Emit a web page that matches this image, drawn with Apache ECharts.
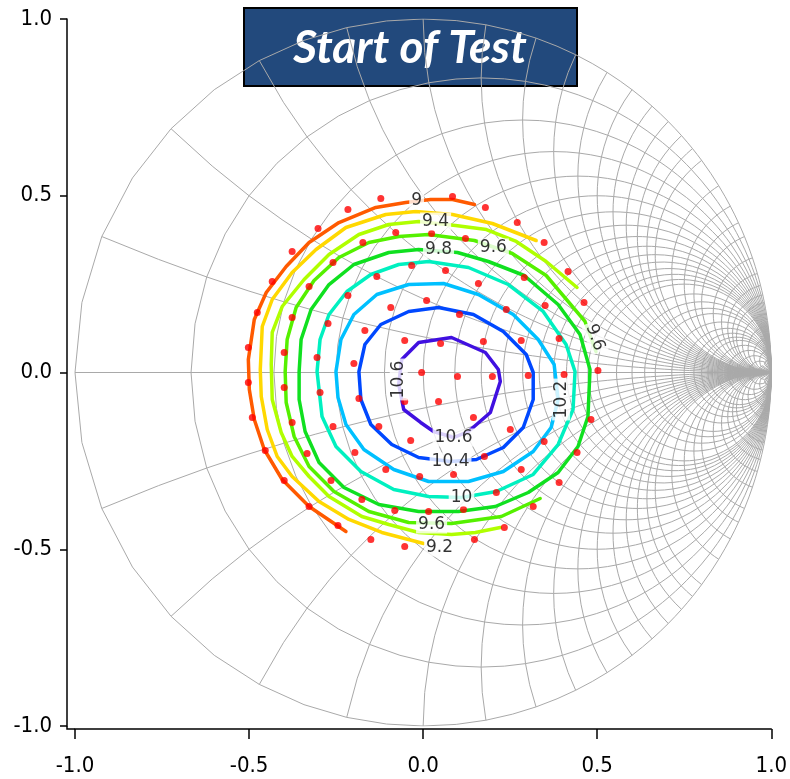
<!DOCTYPE html>
<html>
<head>
<meta charset="utf-8">
<script src="https://cdn.jsdelivr.net/npm/echarts@6/dist/echarts.min.js"></script>
<style>
  html, body { margin: 0; padding: 0; background: #fff; }
  #chart { width: 790px; height: 779px; }
</style>
</head>
<body>
<div id="chart"></div>
<script>
// Smith chart grid: normalised resistance circles and reactance arcs
const resistanceCircles = [0, 0.2, 0.4, 0.6, 0.8, 1, 1.2, 1.4, 1.6, 1.8, 2, 2.2, 2.4, 2.6, 2.8, 3, 3.5, 4, 4.5, 5, 6, 7, 8, 9, 10, 12, 15, 20, 30, 50];
const reactanceArcs = [0.2, 0.4, 0.6, 0.8, 1, 1.2, 1.4, 1.6, 1.8, 2, 2.2, 2.4, 2.6, 2.8, 3, 3.5, 4, 4.5, 5, 6, 7, 8, 9, 10, 12, 15, 20, 30, 50];

// Axis ticks
const axisMin = -1, axisMax = 1, axisStep = 0.5;

// Contour levels and their traces in the reflection-coefficient plane [Re, Im]
const contourLevels = ['9', '9.2', '9.4', '9.6', '9.8', '10', '10.2', '10.4', '10.6'];
const contourColors = ['#ff5a00', '#ffd800', '#b0ff00', '#55f000', '#10e020', '#00f0c0', '#00c0ff', '#0048ff', '#4010e0'];

const contour9 = [[-0.2217,-0.4498],[-0.3276,-0.3791],[-0.4049,-0.3027],[-0.4564,-0.2178],[-0.485,-0.133],[-0.4993,-0.048],[-0.5021,0.0368],[-0.485,0.15],[-0.4506,0.2263],[-0.3934,0.2999],[-0.3276,0.3678],[-0.2418,0.4243],[-0.1359,0.4668],[-0.0501,0.4809],[0.0215,0.4894],[0.0844,0.4894],[0.1474,0.4752]];
const contour9_2 = [[0.0014,-0.4837],[-0.1187,-0.4526],[-0.2132,-0.4158],[-0.299,-0.3649],[-0.3763,-0.2942],[-0.4192,-0.2376],[-0.4478,-0.1612],[-0.465,-0.0679],[-0.4678,0.0085],[-0.4621,0.1301],[-0.4335,0.2065],[-0.3763,0.2829],[-0.3076,0.3479],[-0.2217,0.4102],[-0.1073,0.447],[-0.0215,0.4554],[0.0844,0.447],[0.1989,0.4215],[0.3247,0.3734]];
const contour9_4 = [[0.2217,-0.4385],[0.1502,-0.4526],[0.0815,-0.4583],[-0.0129,-0.4526],[-0.0987,-0.43],[-0.176,-0.4074],[-0.2704,-0.3508],[-0.3276,-0.2942],[-0.3763,-0.2376],[-0.4077,-0.1697],[-0.4335,-0.0764],[-0.4363,0.0226],[-0.4335,0.1132],[-0.4049,0.1867],[-0.3419,0.2631],[-0.2704,0.3338],[-0.1845,0.3904],[-0.0987,0.4187],[-0.0129,0.4272],[0.093,0.4158],[0.1817,0.4045],[0.2675,0.3706],[0.3534,0.314],[0.4421,0.2405]];
const contour9_6 = [[0.3362,-0.3564],[0.2246,-0.4074],[0.0815,-0.4272],[-0.0415,-0.4243],[-0.1559,-0.3932],[-0.2561,-0.3366],[-0.3276,-0.2659],[-0.3705,-0.181],[-0.3934,-0.0849],[-0.3963,0.0028],[-0.3906,0.0934],[-0.3648,0.1839],[-0.3133,0.2603],[-0.2418,0.3253],[-0.1559,0.3678],[-0.0701,0.3847],[0.0157,0.3904],[0.1474,0.3734],[0.2561,0.3366],[0.3534,0.2744],[0.4649,0.1443],[0.4964,0.0594]];
const contour9_8 = [[-0.3562,0.0028],[-0.3505,0.0934],[-0.3219,0.1782],[-0.2704,0.2489],[-0.1989,0.3055],[-0.0987,0.3395],[-0.0129,0.3479],[0.0987,0.3395],[0.1874,0.314],[0.2904,0.2744],[0.3877,0.1924],[0.4506,0.1075],[0.4793,0.0085],[0.4735,-0.1245],[0.4449,-0.2093],[0.3877,-0.2829],[0.3019,-0.3395],[0.2074,-0.3791],[0.1016,-0.3932],[-0.0129,-0.3932],[-0.1273,-0.3734],[-0.2275,-0.3253],[-0.299,-0.2546],[-0.339,-0.1669],[-0.3562,-0.0764],[-0.3562,0.0028]];
const contour10 = [[-0.3047,0.0028],[-0.2961,0.0934],[-0.2704,0.1641],[-0.2189,0.2291],[-0.1502,0.2772],[-0.0701,0.3055],[0.0157,0.314],[0.1302,0.297],[0.2446,0.2489],[0.3448,0.1726],[0.4106,0.0792],[0.4363,0.0028],[0.4306,-0.1047],[0.3877,-0.2037],[0.3162,-0.2885],[0.2103,-0.3366],[0.1102,-0.3536],[0.0157,-0.3508],[-0.0844,-0.331],[-0.1788,-0.2801],[-0.2504,-0.2093],[-0.2904,-0.1245],[-0.3047,0.0028]];
const contour10_2 = [[-0.2504,0.0028],[-0.2361,0.0934],[-0.1989,0.1641],[-0.133,0.2207],[-0.0415,0.2489],[0.0587,0.2518],[0.1588,0.2207],[0.2589,0.1641],[0.3305,0.0934],[0.3763,0.0226],[0.3877,-0.0764],[0.3677,-0.1556],[0.3162,-0.2235],[0.2303,-0.2801],[0.1302,-0.3083],[0.0157,-0.3083],[-0.0844,-0.2744],[-0.1702,-0.2178],[-0.2217,-0.1471],[-0.2446,-0.0707],[-0.2504,0.0028]];
const contour10_4 = [[-0.1845,0.0028],[-0.1674,0.0792],[-0.1216,0.1358],[-0.0415,0.1726],[0.0443,0.1839],[0.1445,0.1641],[0.2303,0.116],[0.2961,0.0509],[0.3162,0],[0.3162,-0.0764],[0.2876,-0.1556],[0.2303,-0.2122],[0.1531,-0.2461],[0.0787,-0.2518],[-0.0129,-0.2405],[-0.0901,-0.2037],[-0.1502,-0.1471],[-0.1788,-0.0764],[-0.1845,0.0028]];
const contour10_6 = [[-0.0615,0.0368],[-0.0129,0.0849],[0.0815,0.099],[0.1788,0.0566],[0.216,0.0085],[0.2217,-0.0255],[0.1931,-0.1132],[0.1302,-0.1669],[0.0873,-0.1839],[0.03,-0.1669],[-0.0072,-0.1414],[-0.0558,-0.1047],[-0.0701,-0.0339],[-0.0615,0.0368]];
const contourTraces = [contour9, contour9_2, contour9_4, contour9_6, contour9_8, contour10, contour10_2, contour10_4, contour10_6];

// Contour labels: level text and its anchor on the trace
const labelTexts = ['9', '9.2', '9.4', '9.6', '9.6', '9.8', '9.6', '10', '10.2', '10.4', '10.6', '10.6'];
const labelAnchors = [[-0.0186,0.4866],[0.0472,-0.495],[0.0358,0.4272],[0.2017,0.3536],[0.4936,0.099],[0.0443,0.3479],[0.0243,-0.43],[0.1102,-0.3536],[0.3963,-0.0764],[0.0787,-0.2518],[-0.0701,-0.0198],[0.0873,-0.1839]];
const labelAngles = [0, 0, 0, 0, -70, 0, 0, 0, 90, 0, 90, 0];

// Measured load points [Re, Im]
const measuredPoints = [
  [-0.1216,0.4922],[-0.216,0.4611],[-0.3019,0.4074],[-0.3763,0.3423],[-0.4335,0.2574],[-0.4764,0.1697],[-0.5021,0.0707],
  [-0.0787,0.396],[-0.1731,0.3678],[-0.2589,0.3112],[-0.3276,0.2433],[-0.3763,0.1556],[-0.3991,0.0566],
  [-0.0329,0.3027],[-0.133,0.2716],[-0.216,0.2178],[-0.2732,0.1386],[-0.3047,0.0424],
  [0.01,0.2037],[-0.093,0.1839],[-0.1674,0.1188],[-0.1989,0.0255],
  [-0.0529,0.0905],[-0.0043,0],
  [-0.5021,-0.0283],[-0.4907,-0.1273],[-0.4535,-0.2207],[-0.3991,-0.3055],[-0.3276,-0.3791],[-0.2446,-0.4328],[-0.1502,-0.4724],[-0.0529,-0.4922],
  [-0.3991,-0.0424],[-0.3763,-0.1414],[-0.3333,-0.2291],[-0.2647,-0.3055],[-0.176,-0.3593],[-0.0815,-0.3904],
  [-0.2961,-0.0566],[-0.2589,-0.1528],[-0.196,-0.2263],[-0.1073,-0.2744],[-0.01,-0.2942],
  [-0.1845,-0.0736],[-0.1273,-0.1528],[-0.0358,-0.1924],[-0.0529,-0.082],
  [0.0844,0.4979],[0.1788,0.4668],[0.2704,0.4243],[0.3476,0.3678],[0.4163,0.2857],[0.4621,0.198],[0.5021,0.0057],
  [0.1216,0.3791],[0.0243,0.3932],[0.2904,0.2687],[0.3505,0.1895],[0.3906,0.0962],[0.4049,-0.0057],
  [0.0644,0.2885],[0.1588,0.2518],[0.2389,0.1782],[0.2818,0.0905],[0.3019,-0.0085],
  [0.1044,0.1641],[0.1731,0.0877],[0.1989,-0.0113],
  [0.0501,0.082],[0.0987,-0.0113],
  [0.0443,-0.082],[0.1445,-0.1273],[0.2504,-0.1612],[0.3476,-0.1952],[0.4421,-0.2263],[0.4821,-0.133],
  [0.176,-0.2376],[0.2818,-0.2744],[0.3906,-0.3112],
  [0.2103,-0.3395],[0.3162,-0.3791],
  [0.2332,-0.4385],[0.1474,-0.4724],
  [0.0873,-0.2885],[0.1159,-0.3876],[0.0157,-0.3932]
];

const TICK_FONT = "'Liberation Sans Narrow', 'DejaVu Sans Condensed', 'Liberation Sans', sans-serif";
const LABEL_FONT = "'DejaVu Sans', 'Noto Sans', sans-serif";

// Impedance z = r + jx mapped to the reflection coefficient plane
function gamma(r, x) {
  if (!isFinite(r) || !isFinite(x)) return [1, 0];
  const d = (r + 1) * (r + 1) + x * x;
  return [(r * r + x * x - 1) / d, (2 * x) / d];
}
// One extra sample between neighbouring grid values
function refine(values) {
  const out = [];
  for (let i = 0; i < values.length; i++) {
    out.push(values[i]);
    const a = values[i], b = values[i + 1];
    if (b !== undefined && isFinite(a) && isFinite(b)) out.push((a + b) / 2);
  }
  return out;
}

const xSamples = refine([-Infinity, ...reactanceArcs.slice().reverse().map(v => -v), 0, ...reactanceArcs, Infinity]);
const rSamples = refine([...resistanceCircles, Infinity]);

const gridStyle = { color: '#a9a9a9', width: 1 };
const series = [];

function gridLine(data) {
  series.push({
    type: 'line', data, showSymbol: false, symbol: 'none', silent: true,
    lineStyle: gridStyle, z: 1, animation: false
  });
}
resistanceCircles.forEach(r => gridLine(xSamples.map(x => gamma(r, x))));
reactanceArcs.forEach(x => {
  gridLine(rSamples.map(r => gamma(r, x)));
  gridLine(rSamples.map(r => gamma(r, -x)));
});
gridLine([gamma(0, 0), gamma(Infinity, 0)]);

contourTraces.forEach((trace, i) => {
  series.push({
    type: 'line', name: contourLevels[i], data: trace, showSymbol: false, symbol: 'none',
    silent: true, z: 3, animation: false,
    lineStyle: { color: contourColors[i], width: 3.5, join: 'round', cap: 'round' }
  });
});

series.push({
  type: 'scatter', data: measuredPoints, symbol: 'circle', symbolSize: 7,
  itemStyle: { color: '#ff0000' }, z: 4, silent: true, animation: false
});

series.push({
  type: 'scatter', symbolSize: 0, silent: true, z: 5, animation: false,
  data: labelAnchors.map((p, i) => ({
    value: p,
    label: { rotate: labelAngles[i], formatter: labelTexts[i] }
  })),
  label: {
    show: true, position: 'inside', color: '#000', fontSize: 17, fontFamily: LABEL_FONT,
    backgroundColor: '#ffffff', padding: [1, 2, 0, 2]
  }
});

const axisCommon = {
  type: 'value', min: axisMin, max: axisMax, interval: axisStep,
  splitLine: { show: false },
  axisLine: { show: true, onZero: false, lineStyle: { color: '#000', width: 1.5 } },
  axisTick: { show: true, lineStyle: { color: '#000', width: 1.5 } },
  axisLabel: { color: '#000', fontSize: 22, fontFamily: TICK_FONT, formatter: v => v.toFixed(1) }
};

const chart = echarts.init(document.getElementById('chart'), null, { renderer: 'canvas' });
chart.setOption({
  backgroundColor: '#ffffff',
  animation: false,
  grid: { left: 75, right: 16, top: 19, bottom: 53, containLabel: false },
  xAxis: Object.assign({}, axisCommon, {
    position: 'bottom', offset: 3,
    axisTick: Object.assign({}, axisCommon.axisTick, { length: 10 }),
    axisLabel: Object.assign({}, axisCommon.axisLabel, { margin: 26 })
  }),
  yAxis: Object.assign({}, axisCommon, {
    position: 'left', offset: 8,
    axisTick: Object.assign({}, axisCommon.axisTick, { length: 7 }),
    axisLabel: Object.assign({}, axisCommon.axisLabel, { margin: 15 })
  }),
  graphic: [
    // axis corner joint
    { type: 'polyline', z: 10, silent: true,
      shape: { points: [[67, 726], [67, 729], [75, 729]] },
      style: { stroke: '#000', lineWidth: 1.5, fill: null } },
    // heading box
    { type: 'group', left: 243, top: 7, z: 20, children: [
      { type: 'rect', shape: { x: 0, y: 0, width: 333, height: 78 },
        style: { fill: '#22497c', stroke: '#000', lineWidth: 2 } },
      { type: 'text', x: 166, y: 40,
        style: { text: 'Start of Test', fill: '#fff', font: 'italic bold 46px Lato, "Open Sans", sans-serif',
                 align: 'center', verticalAlign: 'middle' } }
    ] }
  ],
  series
});
</script>
</body>
</html>
